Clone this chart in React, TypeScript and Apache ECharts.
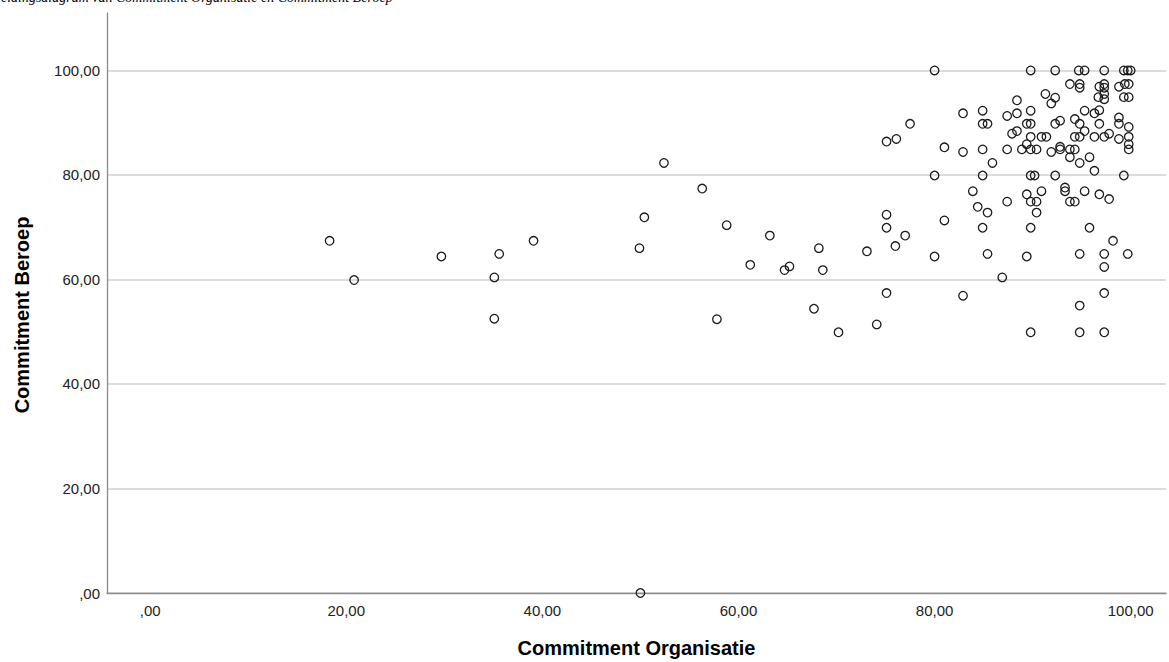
import React, { useEffect, useRef } from 'react';
import * as echarts from 'echarts';

// Tick positions shown on both axes
const xTicks = [0, 20, 40, 60, 80, 100];
const yTicks = [0, 20, 40, 60, 80, 100];

// Commitment Organisatie (x) per respondent
const organisatie = [
  18.3, 20.8, 29.7, 35.6, 39.1, 35.1, 35.1, 50.0, 52.4, 56.3,
  50.4, 58.8, 63.2, 49.9, 68.2, 61.2, 64.7, 65.2, 68.6, 57.8,
  67.7, 70.2, 75.1, 77.0, 76.0, 73.1, 80.0, 84.9, 89.8, 95.8,
  85.4, 89.4, 86.9, 94.8, 97.3, 99.7, 98.2, 97.3, 75.1, 82.9,
  74.1, 97.3, 94.8, 89.8, 94.8, 97.3,
  80.0, 89.8, 92.3, 94.7, 95.3, 97.3, 99.3, 99.7, 100.0,
  93.8, 94.8, 94.8, 96.8, 97.3, 97.3, 98.8, 99.4, 99.8,
  91.3, 92.3, 91.9, 96.7, 97.3, 97.3, 99.3, 99.8, 88.4,
  82.9, 84.9, 87.4, 88.4, 89.8, 95.3, 96.3, 96.8,
  77.5, 84.9, 85.4, 89.4, 89.8, 92.3, 92.8, 94.3, 94.8, 96.8, 98.8, 98.8, 99.8,
  75.1, 76.1, 87.9, 88.4, 89.8, 90.9, 91.4, 94.3, 94.8, 95.3, 96.3, 97.3, 97.8, 98.8, 99.8, 99.8,
  81.0, 82.9, 84.9, 87.4, 88.9, 89.4, 89.8, 90.4, 91.9, 92.8, 92.8, 93.8, 94.3, 99.8,
  85.9, 93.8, 94.8, 95.8, 96.3,
  80.0, 84.9, 89.8, 90.2, 92.3, 99.3,
  83.9, 87.4, 89.4, 89.8, 90.4, 90.9, 90.4, 93.3, 93.3, 93.8, 94.3, 95.3, 96.8, 97.8,
  84.4, 85.4, 75.1, 81.0,
];

// Commitment Beroep (y) per respondent
const beroep = [
  67.4, 59.9, 64.4, 64.9, 67.4, 60.4, 52.5, 0.0, 82.3, 77.4,
  71.9, 70.4, 68.4, 66.0, 66.0, 62.8, 61.8, 62.5, 61.8, 52.4,
  54.4, 49.9, 69.9, 68.4, 66.4, 65.4, 64.4, 69.9, 69.9, 69.9,
  64.9, 64.4, 60.4, 64.9, 64.9, 64.9, 67.4, 62.4, 57.4, 56.9,
  51.4, 57.4, 55.0, 49.9, 49.9, 49.9,
  100, 100, 100, 100, 100, 100, 100, 100, 100,
  97.4, 97.4, 96.7, 96.9, 97.4, 96.7, 96.9, 97.4, 97.4,
  95.5, 94.8, 93.7, 94.9, 95.5, 94.5, 94.9, 94.9, 94.3,
  91.8, 92.3, 91.3, 91.8, 92.3, 92.3, 91.8, 92.4,
  89.8, 89.8, 89.8, 89.8, 89.8, 89.8, 90.4, 90.7, 89.8, 89.8, 91.0, 89.8, 89.2,
  86.4, 86.9, 87.9, 88.4, 87.3, 87.3, 87.3, 87.3, 87.3, 88.4, 87.3, 87.3, 87.9, 86.9, 87.3, 85.9,
  85.3, 84.4, 84.9, 84.9, 84.9, 85.9, 84.9, 84.9, 84.4, 84.9, 85.4, 84.9, 84.9, 84.9,
  82.3, 83.4, 82.3, 83.4, 80.8,
  79.9, 79.9, 79.9, 79.9, 79.9, 79.9,
  76.9, 74.9, 76.3, 74.9, 74.9, 76.9, 72.8, 77.6, 76.9, 74.9, 74.9, 76.9, 76.3, 75.4,
  73.9, 72.8, 72.4, 71.3,
];

const titleText = 'Spreidingsdiagram van Commitment Organisatie en Commitment Beroep';
const xName = 'Commitment Organisatie';
const yName = 'Commitment Beroep';

const fmt = (v: number) => (v === 0 ? ',00' : v.toFixed(2).replace('.', ','));

export default function App() {
  const ref = useRef<HTMLDivElement>(null);

  useEffect(() => {
    if (!ref.current) return;
    const chart = echarts.init(ref.current, null, { renderer: 'svg' });
    const font = 'Liberation Sans, Arial, sans-serif';
    chart.setOption({
      animation: false,
      backgroundColor: '#ffffff',
      grid: { left: 107, top: 13, right: 3, bottom: 69, outerBoundsMode: 'none' },
      xAxis: {
        type: 'value',
        min: -4.4,
        max: 103.6,
        name: xName,
        nameLocation: 'middle',
        nameGap: 45,
        nameTextStyle: { fontFamily: font, fontWeight: 'bold', fontSize: 20, color: '#000' },
        axisLine: { show: true, onZero: false, lineStyle: { color: '#8a8a8a', width: 1.3 } },
        axisTick: { show: false, customValues: xTicks },
        axisLabel: { customValues: xTicks, formatter: fmt, fontFamily: font, fontSize: 15, color: '#222', margin: 10 },
        splitLine: { show: false },
      },
      yAxis: {
        type: 'value',
        min: 0,
        max: 111,
        axisLine: { show: true, onZero: false, lineStyle: { color: '#8a8a8a', width: 1.3 } },
        axisTick: { show: false, customValues: yTicks },
        axisLabel: { customValues: yTicks, formatter: fmt, fontFamily: font, fontSize: 15, color: '#222', margin: 7 },
        splitLine: { show: true, lineStyle: { color: '#d0d0d0', width: 1.5 } },
      },
      graphic: [
        {
          type: 'text',
          x: -18,
          y: 4,
          style: {
            text: titleText,
            fontFamily: 'Liberation Serif, Times New Roman, serif',
            fontStyle: 'italic',
            fontSize: 14,
            fill: '#000',
            align: 'left',
            verticalAlign: 'bottom',
          },
        },
        {
          type: 'text',
          x: 22,
          y: 315,
          rotation: Math.PI / 2,
          style: {
            text: yName,
            fontFamily: font,
            fontWeight: 'bold',
            fontSize: 20,
            fill: '#000',
            align: 'center',
            verticalAlign: 'middle',
          },
        },
      ],
      series: [
        {
          type: 'scatter',
          data: organisatie.map((x, i) => [x, beroep[i]]),
          symbol: 'circle',
          symbolSize: 8.5,
          itemStyle: { color: 'rgba(0,0,0,0)', borderColor: '#1a1a1a', borderWidth: 1.3, opacity: 1 },
          emphasis: { disabled: true },
          z: 3,
        },
      ],
    });
    return () => chart.dispose();
  }, []);

  return <div ref={ref} style={{ position: 'fixed', left: 0, top: 0, width: 1169, height: 662 }} />;
}
